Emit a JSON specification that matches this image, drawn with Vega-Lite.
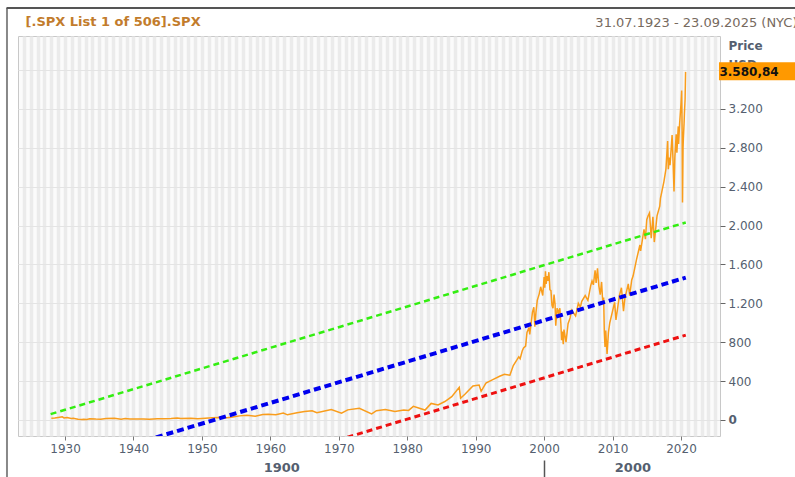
{
  "$schema": "https://vega.github.io/schema/vega-lite/v6.json",
  "width": 702,
  "height": 400,
  "autosize": "none",
  "padding": {"left": 18, "top": 36, "right": 75, "bottom": 41},
  "background": "#ffffff",
  "config": {
    "locale": {"number": {"decimal": ",", "thousands": ".", "grouping": [3], "currency": ["", " €"]}},
    "view": {"stroke": "#c8c8c8", "fill": "#fbfbfb"},
    "axis": {"labelFont": "DejaVu Sans", "labelFontSize": 12, "labelColor": "#555f70", "titleFont": "DejaVu Sans", "titleColor": "#555f70"}
  },
  "datasets": {
    "spx": [
      {"t": 1928.0, "v": 17.7}, {"t": 1928.5, "v": 19.5}, {"t": 1929.0, "v": 24.9}, {"t": 1929.6, "v": 31.7}, {"t": 1929.85, "v": 20.4},
      {"t": 1930.3, "v": 25.5}, {"t": 1930.9, "v": 15.3}, {"t": 1931.2, "v": 18.2}, {"t": 1931.9, "v": 8.1}, {"t": 1932.5, "v": 4.4},
      {"t": 1932.7, "v": 8.1}, {"t": 1933.2, "v": 5.5}, {"t": 1933.6, "v": 12.2}, {"t": 1934.5, "v": 9.0}, {"t": 1935.2, "v": 8.4},
      {"t": 1936.0, "v": 13.8}, {"t": 1937.2, "v": 18.7}, {"t": 1938.2, "v": 8.5}, {"t": 1938.8, "v": 13.8}, {"t": 1939.5, "v": 10.5},
      {"t": 1940.4, "v": 9.0}, {"t": 1941.5, "v": 10.3}, {"t": 1942.3, "v": 7.5}, {"t": 1943.5, "v": 12.0}, {"t": 1944.5, "v": 13.0},
      {"t": 1945.5, "v": 15.0}, {"t": 1946.4, "v": 19.2}, {"t": 1946.9, "v": 14.5}, {"t": 1948.4, "v": 17.0}, {"t": 1949.4, "v": 13.6},
      {"t": 1950.5, "v": 18.0}, {"t": 1951.5, "v": 22}, {"t": 1952.5, "v": 25}, {"t": 1953.7, "v": 22.7}, {"t": 1954.5, "v": 30},
      {"t": 1955.5, "v": 42}, {"t": 1956.6, "v": 49}, {"t": 1957.8, "v": 39}, {"t": 1958.9, "v": 55}, {"t": 1959.7, "v": 60},
      {"t": 1960.8, "v": 53}, {"t": 1961.9, "v": 72}, {"t": 1962.5, "v": 53}, {"t": 1963.9, "v": 75}, {"t": 1965.0, "v": 86},
      {"t": 1966.1, "v": 94}, {"t": 1966.8, "v": 74}, {"t": 1968.9, "v": 108}, {"t": 1970.4, "v": 69}, {"t": 1971.3, "v": 104},
      {"t": 1973.0, "v": 120}, {"t": 1974.8, "v": 62}, {"t": 1975.5, "v": 95}, {"t": 1976.8, "v": 107}, {"t": 1978.2, "v": 87},
      {"t": 1979.5, "v": 103}, {"t": 1980.2, "v": 98}, {"t": 1980.9, "v": 140}, {"t": 1982.6, "v": 102}, {"t": 1983.5, "v": 170},
      {"t": 1984.5, "v": 155}, {"t": 1985.5, "v": 190}, {"t": 1986.5, "v": 240}, {"t": 1987.6, "v": 336}, {"t": 1987.8, "v": 224},
      {"t": 1988.5, "v": 270}, {"t": 1989.6, "v": 350}, {"t": 1990.5, "v": 360}, {"t": 1990.8, "v": 295}, {"t": 1991.5, "v": 380},
      {"t": 1992.5, "v": 415}, {"t": 1993.5, "v": 450}, {"t": 1994.2, "v": 470}, {"t": 1995.0, "v": 460}, {"t": 1995.5, "v": 560},
      {"t": 1996.0, "v": 615}, {"t": 1996.3, "v": 650}, {"t": 1996.5, "v": 630}, {"t": 1996.8, "v": 710}, {"t": 1997.0, "v": 740},
      {"t": 1997.3, "v": 760}, {"t": 1997.5, "v": 900}, {"t": 1997.8, "v": 950}, {"t": 1997.9, "v": 880}, {"t": 1998.3, "v": 1110},
      {"t": 1998.5, "v": 1160}, {"t": 1998.65, "v": 960}, {"t": 1998.8, "v": 1100}, {"t": 1999.0, "v": 1230}, {"t": 1999.3, "v": 1300},
      {"t": 1999.5, "v": 1370}, {"t": 1999.8, "v": 1280}, {"t": 2000.0, "v": 1470}, {"t": 2000.1, "v": 1360}, {"t": 2000.2, "v": 1530},
      {"t": 2000.3, "v": 1400}, {"t": 2000.45, "v": 1480}, {"t": 2000.55, "v": 1430}, {"t": 2000.7, "v": 1520}, {"t": 2000.85, "v": 1340},
      {"t": 2001.0, "v": 1330}, {"t": 2001.15, "v": 1180}, {"t": 2001.3, "v": 1150}, {"t": 2001.45, "v": 1290}, {"t": 2001.6, "v": 1190},
      {"t": 2001.7, "v": 970}, {"t": 2001.9, "v": 1150}, {"t": 2002.1, "v": 1100}, {"t": 2002.3, "v": 1150}, {"t": 2002.45, "v": 990},
      {"t": 2002.55, "v": 820}, {"t": 2002.65, "v": 910}, {"t": 2002.8, "v": 780}, {"t": 2002.9, "v": 930}, {"t": 2003.2, "v": 800},
      {"t": 2003.5, "v": 990}, {"t": 2003.8, "v": 1050}, {"t": 2004.0, "v": 1130}, {"t": 2004.3, "v": 1100}, {"t": 2004.6, "v": 1070},
      {"t": 2005.0, "v": 1200}, {"t": 2005.3, "v": 1160}, {"t": 2005.5, "v": 1220}, {"t": 2006.0, "v": 1280}, {"t": 2006.4, "v": 1230},
      {"t": 2006.8, "v": 1380}, {"t": 2007.0, "v": 1430}, {"t": 2007.2, "v": 1390}, {"t": 2007.45, "v": 1540}, {"t": 2007.6, "v": 1410},
      {"t": 2007.8, "v": 1560}, {"t": 2008.0, "v": 1380}, {"t": 2008.2, "v": 1290}, {"t": 2008.4, "v": 1420}, {"t": 2008.55, "v": 1230},
      {"t": 2008.7, "v": 1260}, {"t": 2008.8, "v": 900}, {"t": 2008.9, "v": 750}, {"t": 2009.0, "v": 920}, {"t": 2009.1, "v": 800},
      {"t": 2009.2, "v": 680}, {"t": 2009.4, "v": 900}, {"t": 2009.6, "v": 1000}, {"t": 2010.0, "v": 1120}, {"t": 2010.3, "v": 1210},
      {"t": 2010.5, "v": 1030}, {"t": 2010.8, "v": 1180}, {"t": 2011.0, "v": 1280}, {"t": 2011.3, "v": 1360}, {"t": 2011.6, "v": 1120},
      {"t": 2011.8, "v": 1250}, {"t": 2012.0, "v": 1310}, {"t": 2012.3, "v": 1400}, {"t": 2012.5, "v": 1280}, {"t": 2012.8, "v": 1440},
      {"t": 2013.0, "v": 1480}, {"t": 2013.5, "v": 1650}, {"t": 2014.0, "v": 1800}, {"t": 2014.1, "v": 1740}, {"t": 2014.6, "v": 1960},
      {"t": 2014.8, "v": 1860}, {"t": 2015.0, "v": 2060}, {"t": 2015.2, "v": 2100}, {"t": 2015.4, "v": 2130}, {"t": 2015.65, "v": 1870},
      {"t": 2015.9, "v": 2090}, {"t": 2016.1, "v": 1830}, {"t": 2016.5, "v": 2100}, {"t": 2016.9, "v": 2200}, {"t": 2017.0, "v": 2280},
      {"t": 2017.5, "v": 2450}, {"t": 2017.8, "v": 2580}, {"t": 2018.05, "v": 2870}, {"t": 2018.15, "v": 2580}, {"t": 2018.3, "v": 2700},
      {"t": 2018.4, "v": 2620}, {"t": 2018.7, "v": 2930}, {"t": 2018.85, "v": 2640}, {"t": 2018.98, "v": 2350}, {"t": 2019.1, "v": 2700},
      {"t": 2019.3, "v": 2940}, {"t": 2019.4, "v": 2750}, {"t": 2019.6, "v": 3020}, {"t": 2019.65, "v": 2840}, {"t": 2019.8, "v": 3050},
      {"t": 2020.0, "v": 3250}, {"t": 2020.1, "v": 3390}, {"t": 2020.17, "v": 2950}, {"t": 2020.22, "v": 2237}, {"t": 2020.3, "v": 2800},
      {"t": 2020.35, "v": 2900}, {"t": 2020.45, "v": 3050}, {"t": 2020.5, "v": 3150}, {"t": 2020.6, "v": 3300}, {"t": 2020.67, "v": 3580.84}
    ],
    "channel": [
      {"line": "upper", "t": 1927.9, "v": 60}, {"line": "upper", "t": 2020.7, "v": 2032},
      {"line": "mid", "t": 1927.9, "v": -507}, {"line": "mid", "t": 2020.7, "v": 1465},
      {"line": "lower", "t": 1927.9, "v": -1099}, {"line": "lower", "t": 2020.7, "v": 873}
    ],
    "last": [{"v": 3580.84}]
  },
  "resolve": {"axis": {"x": "independent", "y": "independent"}},
  "layer": [
    {
      "data": {"name": "spx"},
      "mark": {"type": "line", "color": "#f99d1c", "strokeWidth": 1.5},
      "encoding": {
        "x": {"field": "t", "type": "quantitative", "scale": {"domain": [1923.13, 2025.7], "nice": false, "zero": false},
          "axis": {"grid": true, "gridColor": "#ebebeb", "gridWidth": 3.5, "tickCount": 103, "labels": false, "ticks": false, "domain": false, "title": null}},
        "y": {"field": "v", "type": "quantitative", "scale": {"domain": [-165, 3950], "nice": false, "zero": false},
          "axis": {"grid": true, "gridColor": "#e4e4e4", "values": [0, 400, 800, 1200, 1600, 2000, 2400, 2800, 3200, 3600], "labels": false, "ticks": false, "domain": false, "title": null}}
      }
    },
    {
      "data": {"name": "channel"},
      "transform": [{"filter": "datum.line == 'upper'"}],
      "mark": {"type": "line", "color": "#33ee11", "strokeWidth": 2.5, "strokeDash": [6, 4], "clip": true},
      "encoding": {
        "x": {"field": "t", "type": "quantitative", "scale": {"domain": [1923.13, 2025.7], "nice": false, "zero": false},
          "axis": {"orient": "bottom", "grid": false, "tickCount": 10, "format": "d", "labelPadding": 3, "tickSize": 4, "tickColor": "#777777", "domain": false, "title": null}},
        "y": {"field": "v", "type": "quantitative", "scale": {"domain": [-165, 3950], "nice": false, "zero": false},
          "axis": {"orient": "right", "grid": false, "values": [0, 400, 800, 1200, 1600, 2000, 2400, 2800, 3200], "format": ",d", "labelFontWeight": {"expr": "datum.value == 0 ? 'bold' : 'normal'"}, "tickSize": 5, "tickColor": "#666666", "labelPadding": 3, "domain": false,
            "title": ["Price", "USD"], "titleAngle": 0, "titleAlign": "left", "titleBaseline": "top", "titleX": 8, "titleY": 4, "titleFontSize": 12, "titleFontWeight": "bold", "titleLineHeight": 19}}
      }
    },
    {
      "data": {"name": "channel"},
      "transform": [{"filter": "datum.line == 'mid'"}],
      "mark": {"type": "line", "color": "#0000ee", "strokeWidth": 4, "strokeDash": [7, 4], "clip": true},
      "encoding": {
        "x": {"field": "t", "type": "quantitative", "scale": {"domain": [1923.13, 2025.7], "nice": false, "zero": false},
          "axis": {"orient": "bottom", "grid": false, "values": [1961.6, 2012.9], "labelExpr": "datum.value < 2000 ? '1900' : '2000'", "labelFontWeight": "bold", "labelFontSize": 13, "labelBaseline": "top", "labelPadding": 25, "ticks": false, "domain": false, "title": null}},
        "y": {"field": "v", "type": "quantitative", "scale": {"domain": [-165, 3950], "nice": false, "zero": false}, "axis": null}
      }
    },
    {
      "data": {"name": "channel"},
      "transform": [{"filter": "datum.line == 'lower'"}],
      "mark": {"type": "line", "color": "#ee1111", "strokeWidth": 3, "strokeDash": [6, 4], "clip": true},
      "encoding": {
        "x": {"field": "t", "type": "quantitative", "scale": {"domain": [1923.13, 2025.7], "nice": false, "zero": false},
          "axis": {"orient": "bottom", "grid": false, "values": [2000], "labels": false, "ticks": true, "tickSize": 17, "offset": 24, "tickColor": "#555555", "tickWidth": 1.5, "domain": false, "title": null}},
        "y": {"field": "v", "type": "quantitative", "scale": {"domain": [-165, 3950], "nice": false, "zero": false}, "axis": null}
      }
    },
    {
      "data": {"name": "last"},
      "mark": {"type": "rect", "color": "#ff9900"},
      "encoding": {
        "x": {"datum": 2025.55, "type": "quantitative", "scale": {"domain": [1923.13, 2025.7], "nice": false, "zero": false},
          "axis": {"orient": "top", "grid": false, "labels": false, "ticks": false, "domain": false, "titleLimit": 400,
            "title": "31.07.1923 - 23.09.2025 (NYC)", "titleAnchor": "end", "titleAlign": "right", "titleBaseline": "middle", "titleX": 779, "titleY": -14, "titleFontSize": 13, "titleFontWeight": "normal", "titleColor": "#776a5e"}},
        "x2": {"datum": 2037},
        "y": {"datum": 3496, "type": "quantitative", "scale": {"domain": [-165, 3950], "nice": false, "zero": false}, "axis": null},
        "y2": {"datum": 3681}
      }
    },
    {
      "data": {"name": "last"},
      "mark": {"type": "text", "align": "left", "baseline": "middle", "font": "DejaVu Sans", "fontSize": 12, "fontWeight": "bold", "color": "#111111"},
      "encoding": {
        "x": {"datum": 2025.62, "type": "quantitative", "scale": {"domain": [1923.13, 2025.7], "nice": false, "zero": false},
          "axis": {"orient": "top", "grid": false, "labels": false, "ticks": false, "domain": false, "titleLimit": 400,
            "title": "[.SPX List 1 of 506].SPX", "titleAnchor": "start", "titleAlign": "left", "titleBaseline": "middle", "titleX": 7, "titleY": -15, "titleFontSize": 13, "titleFontWeight": "bold", "titleColor": "#c27c2c"}},
        "y": {"field": "v", "type": "quantitative", "scale": {"domain": [-165, 3950], "nice": false, "zero": false}, "axis": null},
        "text": {"field": "v", "type": "quantitative", "format": ",.2f"}
      }
    },
    {
      "data": {"values": [{}]},
      "mark": {"type": "rule", "color": "#888888", "strokeWidth": 2},
      "encoding": {
        "x": {"datum": 1921.52, "type": "quantitative", "scale": {"domain": [1923.13, 2025.7], "nice": false, "zero": false}, "axis": null},
        "y": {"datum": -700, "type": "quantitative", "scale": {"domain": [-165, 3950], "nice": false, "zero": false}, "axis": null},
        "y2": {"datum": 4238}
      }
    },
    {
      "data": {"values": [{}]},
      "mark": {"type": "rule", "color": "#555555", "strokeWidth": 2},
      "encoding": {
        "y": {"datum": 4238, "type": "quantitative", "scale": {"domain": [-165, 3950], "nice": false, "zero": false}, "axis": null},
        "x": {"datum": 1921.45, "type": "quantitative", "scale": {"domain": [1923.13, 2025.7], "nice": false, "zero": false}, "axis": null},
        "x2": {"datum": 2040}
      }
    }
  ]
}
